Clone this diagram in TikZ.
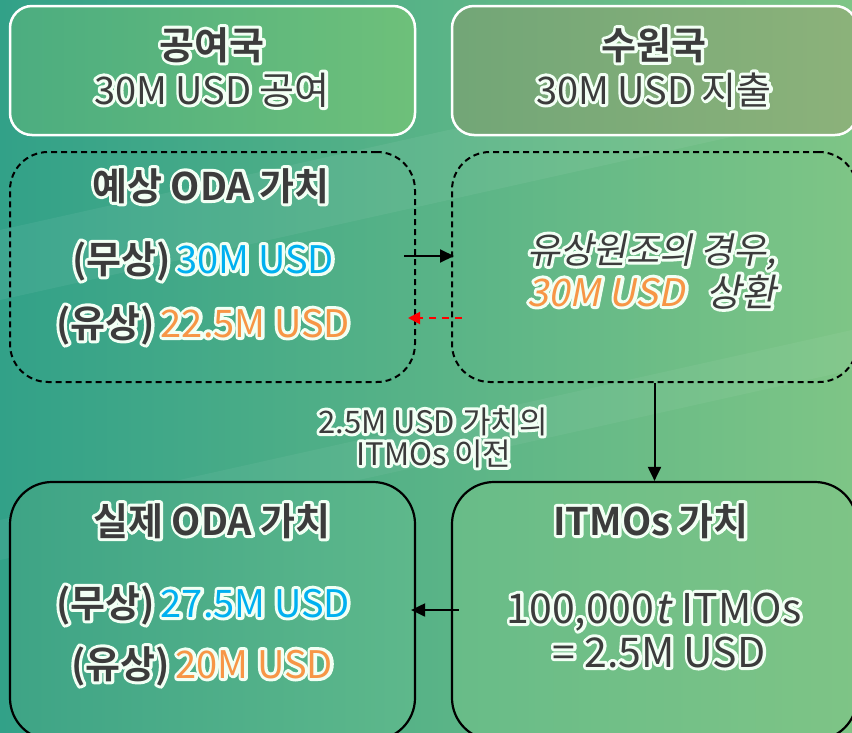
\documentclass[tikz,border=0pt]{standalone}
\usepackage{fontspec}
\usetikzlibrary{arrows.meta,calc}
\newfontfamily\sR{Noto Sans CJK KR}
\newfontfamily\sB{Noto Sans CJK KR Bold}
\newfontfamily\sI{Noto Sans CJK KR}[FakeSlant=0.2]
\definecolor{ink}{HTML}{3C3C3C}
\definecolor{cy}{HTML}{00B0F0}
\definecolor{og}{HTML}{F79646}
\definecolor{redarr}{HTML}{FF0000}
\definecolor{halo}{HTML}{F2FFF4}
% glowing text: the same text stroked thick in white, under the coloured text
\newcommand\glowtxt[1]{\makebox[0pt][l]{\special{pdf:literal direct 1 j 6 w 1 Tr}\color{halo}\def\tc##1##2{##2}#1\special{pdf:literal direct 0 Tr}}{\def\tc##1##2{{\color{##1}##2}}#1}}
\tikzset{
  txt/.style={inner sep=0pt, anchor=base, font=\sR\fontsize{38}{44}\selectfont},
  small/.style={inner sep=0pt, anchor=base, font=\sR\fontsize{31}{36}\selectfont},
  whitebox/.style={draw=white, line width=2.5pt, rounded corners=22pt, minimum width=405pt, minimum height=129pt, inner sep=0pt},
  dashbox/.style={draw=black, line width=2pt, dash pattern=on 6pt off 4pt, rounded corners=38pt, minimum width=405pt, minimum height=230pt, inner sep=0pt},
  solidbox/.style={draw=black, line width=2.2pt, rounded corners=42pt, minimum width=405pt, minimum height=258pt, inner sep=0pt},
  arr/.style={line width=2pt, -{Triangle[length=14pt,width=13pt]}},
}
\begin{document}
\begin{tikzpicture}[x=1pt,y=-1pt]
\useasboundingbox (0,0) rectangle (852,732);
\begin{scope}
\clip (0,0) rectangle (852,732);
\fill[left color={rgb,255:red,50;green,161;blue,136}, right color={rgb,255:red,126;green,197;blue,134}] (0,0) rectangle (852,732);
\fill[white, opacity=0.06] (0,300) -- (852,110) -- (852,40) -- (0,230) -- cycle;
\fill[white, opacity=0.05] (0,560) -- (852,370) -- (852,330) -- (0,520) -- cycle;
% boxes
\node[whitebox, left color={rgb,255:red,76;green,173;blue,128}, right color={rgb,255:red,110;green,192;blue,122}] (tl) at (212.5,70.5) {};
\node[whitebox, left color={rgb,255:red,114;green,166;blue,119}, right color={rgb,255:red,140;green,178;blue,122}] (tr) at (654.5,70.5) {};
\node[dashbox] (ml) at (212.5,267) {};
\node[dashbox] (mr) at (654.5,267) {};
\node[solidbox, left color={rgb,255:red,62;green,164;blue,134}, right color={rgb,255:red,94;green,184;blue,139}] (bl) at (212.5,611) {};
\node[solidbox, left color={rgb,255:red,104;green,188;blue,136}, right color={rgb,255:red,126;green,196;blue,134}] (br) at (654.5,611) {};
\end{scope}
% top texts
\node[txt] (t1) at (212,59) {\glowtxt{\tc{ink}{\sB 공여국}}};
\node[txt] (t2) at (212,104) {\glowtxt{\tc{ink}{\sR 30M USD 공여}}};
\node[txt] (t3) at (654,59) {\glowtxt{\tc{ink}{\sB 수원국}}};
\node[txt] (t4) at (654,104) {\glowtxt{\tc{ink}{\sR 30M USD 지출}}};
% middle left
\node[txt] (m1) at (211,200) {\glowtxt{\tc{ink}{\sB 예상 ODA 가치}}};
\node[txt] (m2) at (203,273) {\glowtxt{\tc{ink}{\sB (무상)}\hspace{6pt}\tc{cy}{\sR 30M USD}}};
\node[txt] (m3) at (203,337) {\glowtxt{\tc{ink}{\sB (유상)}\hspace{6pt}\tc{og}{\sR 22.5M USD}}};
% middle right
\node[txt, font=\sR\fontsize{36}{42}\selectfont] (r1) at (652,263) {\glowtxt{\tc{ink}{\sI 유상원조의 경우,}}};
\node[txt] (r2) at (652,306) {\glowtxt{\tc{og}{\sI 30M USD}\hspace{22pt}\tc{ink}{\sI 상환}}};
% label
\node[small] (l1) at (433,433) {\glowtxt{\tc{ink}{\sR 2.5M USD 가치의}}};
\node[small] (l2) at (434,465) {\glowtxt{\tc{ink}{\sR ITMOs 이전}}};
% bottom left
\node[txt] (b1) at (212,535) {\glowtxt{\tc{ink}{\sB 실제 ODA 가치}}};
\node[txt] (b2) at (203,617) {\glowtxt{\tc{ink}{\sB (무상)}\hspace{6pt}\tc{cy}{\sR 27.5M USD}}};
\node[txt] (b3) at (202,678) {\glowtxt{\tc{ink}{\sB (유상)}\hspace{6pt}\tc{og}{\sR 20M USD}}};
% bottom right
\node[txt] (c1) at (651,535) {\glowtxt{\tc{ink}{\sB ITMOs 가치}}};
\node[txt, font=\sR\fontsize{41}{46}\selectfont] (c2) at (654,623) {\glowtxt{\tc{ink}{\sR 100,000}\tc{ink}{\sI t}\hspace{12pt}\tc{ink}{\sR ITMOs}}};
\node[txt, font=\sR\fontsize{41}{46}\selectfont] (c3) at (659,667) {\glowtxt{\tc{ink}{\sR = 2.5M USD}}};
% arrows
\coordinate (a1s) at ($(ml.east)+(-12,-11)$);
\coordinate (a1e) at ($(mr.west)+(3,-11)$);
\draw[arr] (a1s) -- (a1e);
\coordinate (a2s) at ($(mr.west)+(11,51)$);
\coordinate (a2e) at ($(ml.east)+(-8,51)$);
\draw[line width=2pt, redarr, dash pattern=on 7pt off 6pt, -{Triangle[length=12pt,width=12pt]}] (a2s) -- (a2e);
\draw[arr] (mr.south) -- (br.north);
\coordinate (a4s) at ($(br.west)+(8,-1)$);
\coordinate (a4e) at ($(bl.east)+(-5,-1)$);
\draw[arr] (a4s) -- (a4e);
\end{tikzpicture}
\end{document}
